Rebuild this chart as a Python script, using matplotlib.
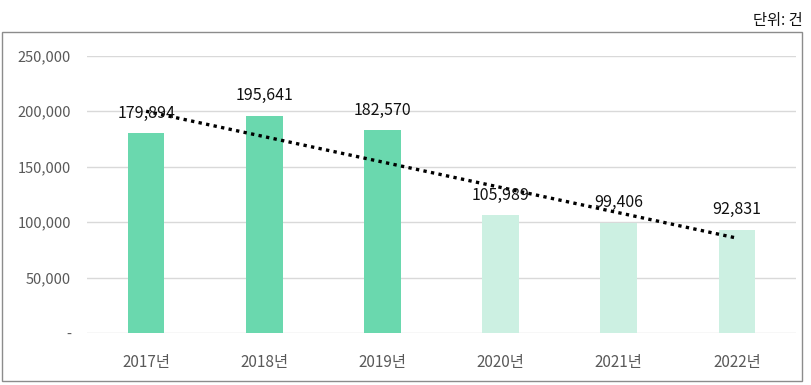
import matplotlib
matplotlib.use("Agg")
import matplotlib.pyplot as plt
import numpy as np
from matplotlib.patches import Rectangle

plt.rcParams['font.family'] = ['Noto Sans CJK KR', 'DejaVu Sans']

categories = ["2017년", "2018년", "2019년", "2020년", "2021년", "2022년"]
values = [179894, 195641, 182570, 105989, 99406, 92831]
bar_colors = ["#6AD8AE", "#6AD8AE", "#6AD8AE", "#CCF0E2", "#CCF0E2", "#CCF0E2"]
yticks = [0, 50000, 100000, 150000, 200000, 250000]
ytick_labels = ["-", "50,000", "100,000", "150,000", "200,000", "250,000"]
unit_text = "단위: 건"

fig = plt.figure(figsize=(8.11, 3.85), dpi=100)
ax = fig.add_axes([87/811, 52/385, (796-87)/811, (333-55.7)/385])

x = np.arange(len(categories))
ax.bar(x, values, width=0.31, color=bar_colors, zorder=2)

# linear trendline
coef = np.polyfit(x, values, 1)
ax.plot(x, np.polyval(coef, x), linestyle=(0, (1, 1.3)), color="black", lw=2.4, zorder=3)

for xi, v in zip(x, values):
    ax.annotate(f"{v:,}", (xi, v), xytext=(0, 14.5), textcoords="offset points",
                ha="center", va="center", fontsize=11.5, color="#111111", zorder=4)

ax.set_xlim(-0.5, 5.5)
ax.set_ylim(0, 250000)
ax.set_yticks(yticks)
ax.set_yticklabels(ytick_labels)
ax.set_xticks(x)
ax.set_xticklabels(categories)
ax.tick_params(axis="y", length=0, pad=11.5, labelsize=10.5, labelcolor="#595959")
ax.tick_params(axis="x", length=0, pad=15, labelsize=11, labelcolor="#595959")
ax.grid(axis="y", color="#D9D9D9", lw=1, zorder=0)
for s in ax.spines.values():
    s.set_visible(False)

# outer border
fig.patches.append(Rectangle((2/811, 4/385), 800/811, 349/385, transform=fig.transFigure,
                             fill=False, edgecolor="#8C8C8C", lw=1))
fig.text(803/811, 365/385, unit_text, ha="right", va="center", fontsize=11, color="#111111")

fig.savefig("out.png", dpi=100)
